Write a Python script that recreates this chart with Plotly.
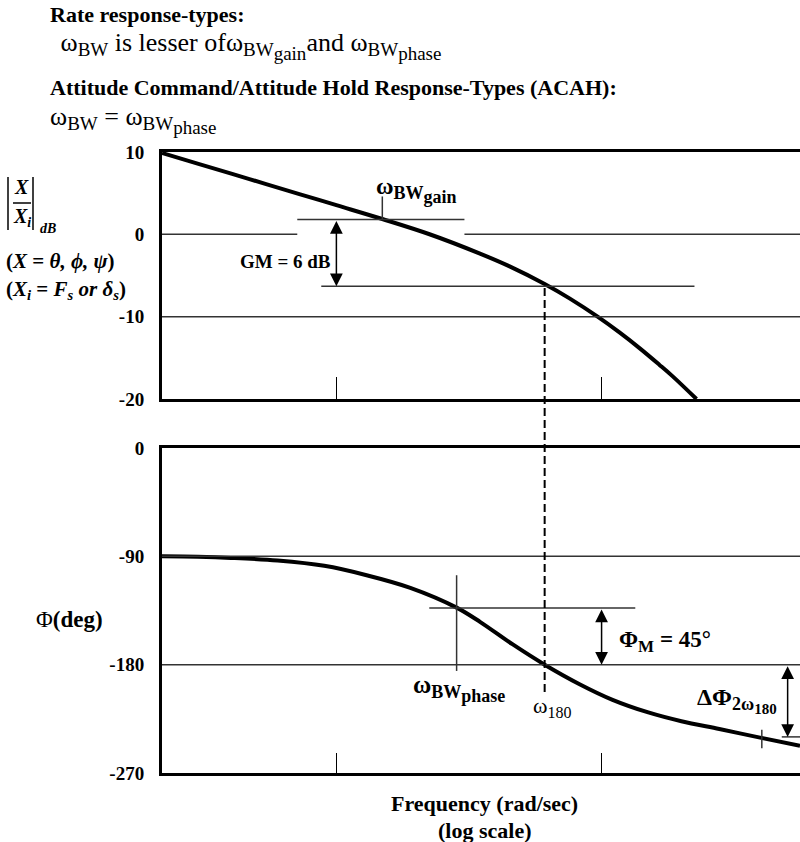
import math
import plotly.graph_objects as go

# ---------------- data ----------------
gain_freq = [0.22, 0.304, 0.47, 0.725, 1.0, 1.49, 2.245, 3.46, 4.5, 6.1, 7.57, 9.66, 11.68, 13.9, 16.5, 18.5, 22.8]
gain_db = [9.88, 8.53, 6.71, 4.89, 3.54, 1.86, 0.01, -2.31, -3.89, -6.03, -7.78, -10.0, -11.92, -13.82,
           -15.83, -17.22, -20.0]

phase_freq = [0.22, 0.3, 0.4, 0.6, 0.9, 1.3, 1.9, 2.84, 3.49, 4.61, 6.1, 8.26, 11.0, 15.0, 20.0, 27.8, 40.0, 56.0]
phase_deg = [-90.0, -90.4, -91.3, -93.5, -97.9, -105.7, -116.2, -132.6, -144.6, -163.0, -180.0,
             -196.2, -209.2, -219.7, -227.0, -233.5, -240.8, -247.3]

gain_ticks = [10, 0, -10, -20]
phase_ticks = [0, -90, -180, -270]
freq_ticks = [1, 10]

# key annotation values
w_bw_gain = 1.49
w_180 = 6.1
w_bw_phase = 2.84
w_2x180 = 40.2
gain_bw_level = 1.8
gain_gm_level = -6.3
phase_pm_level = -133
phase_2x_level = -240

FREQ_MIN, FREQ_MAX = 0.22, 56.0
GAIN_RANGE = [-20, 10]
PHASE_RANGE = [-270, 0]

# ---------------- layout helpers ----------------
W, H = 800, 842
X0_PX = 162
XDOM = [X0_PX / W, 1.0]
TOP_DOM = [1 - 399 / H, 1 - 152 / H]
BOT_DOM = [1 - 773 / H, 1 - 448 / H]
LMIN, LMAX = math.log10(FREQ_MIN), math.log10(FREQ_MAX)

SERIF = "Liberation Serif"
BLACK = "black"
GRID = "#333333"


def px(x):
    return x / W


def py(y):
    return 1 - y / H


def fpaper(f):
    return XDOM[0] + (math.log10(f) - LMIN) / (LMAX - LMIN) * (XDOM[1] - XDOM[0])


def lg(f):
    return math.log10(f)


fig = go.Figure()

fig.add_trace(go.Scatter(x=gain_freq, y=gain_db, mode="lines",
                         line=dict(color=BLACK, width=4, shape="spline", smoothing=1.0),
                         xaxis="x", yaxis="y", showlegend=False, hoverinfo="skip"))
fig.add_trace(go.Scatter(x=phase_freq, y=phase_deg, mode="lines",
                         line=dict(color=BLACK, width=4, shape="spline", smoothing=1.0),
                         xaxis="x2", yaxis="y2", showlegend=False, hoverinfo="skip"))

xcommon = dict(type="log", range=[LMIN, LMAX], domain=XDOM, showgrid=False, zeroline=False,
               showline=True, linewidth=3, linecolor=BLACK, mirror=True,
               tickvals=freq_ticks, ticks="inside", tickwidth=1.5, tickcolor=BLACK,
               showticklabels=False, automargin=False, fixedrange=True)
ycommon = dict(showgrid=False, zeroline=False, showline=True, linewidth=3, linecolor=BLACK,
               mirror=False, ticks="", ticklabelstandoff=11, automargin=False, fixedrange=True,
               tickfont=dict(family=SERIF, size=19, color=BLACK, weight="bold"))

fig.update_layout(
    width=W, height=H,
    margin=dict(l=0, r=0, t=0, b=0),
    paper_bgcolor="white", plot_bgcolor="white",
    showlegend=False,
    xaxis=dict(xcommon, anchor="y", ticklen=22),
    xaxis2=dict(xcommon, anchor="y2", ticklen=20),
    yaxis=dict(ycommon, domain=TOP_DOM, range=GAIN_RANGE, anchor="x",
               tickvals=gain_ticks, ticktext=[str(v) for v in gain_ticks]),
    yaxis2=dict(ycommon, domain=BOT_DOM, range=PHASE_RANGE, anchor="x2",
                tickvals=phase_ticks, ticktext=[str(v) for v in phase_ticks]),
)

shapes = []


def hline(xa, ya, f0, f1, y, width=1.5, color=GRID):
    shapes.append(dict(type="line", xref=xa, yref=ya, x0=f0, x1=f1, y0=y, y1=y,
                       line=dict(color=color, width=width), layer="above"))


def vline(xa, ya, f, y0, y1, width=1.5, color=GRID):
    shapes.append(dict(type="line", xref=xa, yref=ya, x0=f, x1=f, y0=y0, y1=y1,
                       line=dict(color=color, width=width), layer="above"))


def pline(x0, y0, x1, y1, width=1.5):
    shapes.append(dict(type="line", xref="paper", yref="paper", x0=px(x0), x1=px(x1),
                       y0=py(y0), y1=py(y1), line=dict(color=BLACK, width=width)))


# top panel lines
hline("x", "y", FREQ_MIN, 0.712, 0)
hline("x", "y", 3.04, FREQ_MAX, 0)
hline("x", "y", 0.712, 3.04, gain_bw_level)
vline("x", "y", w_bw_gain, gain_bw_level, 4.6)
hline("x", "y", 0.877, 22.4, gain_gm_level)
hline("x", "y", FREQ_MIN, FREQ_MAX, -10)

# bottom panel lines
hline("x2", "y2", FREQ_MIN, FREQ_MAX, -90)
hline("x2", "y2", FREQ_MIN, FREQ_MAX, -180)
hline("x2", "y2", 2.24, 13.4, phase_pm_level)
vline("x2", "y2", w_bw_phase, -105.7, -185.2)
vline("x2", "y2", w_2x180, -234.0, -249.4)
hline("x2", "y2", 47.8, FREQ_MAX, phase_2x_level)

# dashed omega_180 line spanning both panels
shapes.append(dict(type="line", xref="paper", yref="paper",
                   x0=fpaper(w_180), x1=fpaper(w_180), y0=py(692), y1=py(285),
                   line=dict(color=BLACK, width=2, dash="8px,4px"), layer="above"))

# |X / X_i| bars and fraction bar
pline(8, 177, 8, 230)
pline(33, 177, 33, 230)
pline(13, 203, 31, 203)

fig.update_layout(shapes=shapes)

ann = []


def arrow(xa, ya, f, y_head, y_tail):
    ann.append(dict(xref=xa, yref=ya, axref=xa, ayref=ya, x=lg(f), y=y_head, ax=lg(f), ay=y_tail,
                    text="", showarrow=True, arrowhead=2, arrowside="end+start",
                    arrowsize=1.7, arrowwidth=1.5, arrowcolor=BLACK, standoff=0, startstandoff=0))


arrow("x", "y", 1.0, gain_gm_level, gain_bw_level)
arrow("x2", "y2", 10.0, -180, phase_pm_level)
arrow("x2", "y2", 50.3, phase_2x_level, -180)


def text(x, y, s, size=16, xanchor="center", yanchor="middle", family=SERIF, bold=False):
    ann.append(dict(xref="paper", yref="paper", x=px(x), y=py(y), text=s, showarrow=False,
                    xanchor=xanchor, yanchor=yanchor,
                    font=dict(family=family, size=size, color=BLACK,
                              weight="bold" if bold else "normal")))


def sub(s, size):
    return '<sub><span style="font-size:%dpx">%s</span></sub>' % (size, s)


def sub2(a, b, sa, sb):
    return ('<sub><span style="font-size:%dpx">%s</span><sub><span style="font-size:%dpx">%s</span></sub></sub>'
            % (sa, a, sb, b))


# header text
text(48, 14, "<b>Rate response-types:</b>", size=22, xanchor="left")
text(52, 46, " ω" + sub("BW", 19) + " is lesser of" + "ω" + sub2("BW", "gain", 19, 19)
     + "and ω" + sub2("BW", "phase", 19, 19), size=26, xanchor="left")
text(48, 87, "<b>Attitude Command/Attitude Hold Response-Types (ACAH):</b>", size=22, xanchor="left")
text(48, 120, "ω" + sub("BW", 19) + " = ω" + sub2("BW", "phase", 19, 19), size=26, xanchor="left")

# left gain label
text(21, 187, "<b><i>X</i></b>", size=20)
text(22, 217, "<b><i>X<sub>i</sub></i></b>", size=20)
text(48, 228, "<b><i>dB</i></b>", size=14)
text(4, 261, "<b>(<i>X</i> = <i>θ, ϕ, ψ</i>)</b>", size=21, xanchor="left")
text(4, 290, "<b>(<i>X<sub>i</sub></i> = <i>F<sub>s</sub> or δ<sub>s</sub></i>)</b>", size=21, xanchor="left")

# phase label
text(69, 619, "Φ<b>(deg)</b>", size=23)

# in-plot labels
text(416, 190, "<b>ω" + sub2("BW", "gain", 18, 18) + "</b>", size=24)
text(285, 261, "<b>GM = 6 dB</b>", size=19)
text(665, 641, "<b>Φ" + sub("M", 17) + " = 45°</b>", size=23)
text(459, 688, "<b>ω" + sub2("BW", "phase", 18, 18) + "</b>", size=25)
text(552, 707, "ω" + sub("180", 16), size=22)
text(737, 700, "<b>ΔΦ" + sub2("2ω", "180", 18, 15) + "</b>", size=24)

# x-axis title
text(485, 803, "<b>Frequency (rad/sec)</b>", size=22)
text(485, 830, "<b>(log scale)</b>", size=22)

fig.update_layout(annotations=ann)

fig.write_html("out.html",
               config={"displayModeBar": False, "staticPlot": True},
               post_script="document.body.style.margin='0';document.body.style.overflow='hidden';")
